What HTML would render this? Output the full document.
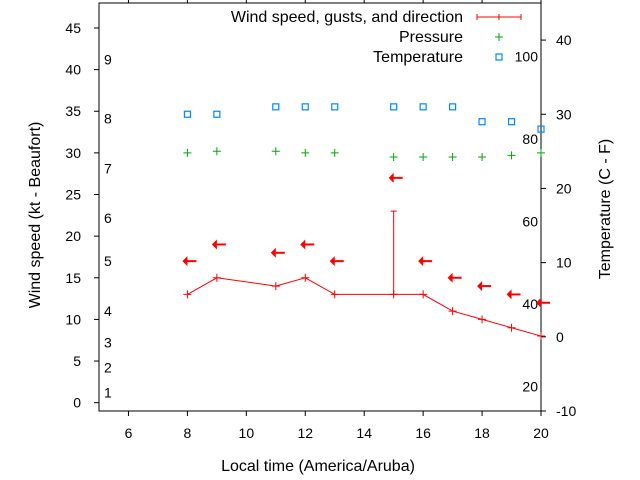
<!DOCTYPE html>
<html><head><meta charset="utf-8"><style>
html,body{margin:0;padding:0;background:#fff}
svg{display:block;font-family:"Liberation Sans",Arial,sans-serif;font-size:14px}
</style></head><body>
<svg id="c" width="640" height="480" viewBox="0 0 640 480"></svg>
<script>
const hours=[8,9,11,12,13,15,16,17,18,19,20];
const windSpeed=[13,15,14,15,13,13,13,11,10,9,8];
const gustHours=[15];
const gustSpeed=[23];
const arrowLevel=[17,19,18,19,17,27,17,15,14,13,12];
const pressure=[30.0,30.2,30.2,30.0,30.0,29.5,29.5,29.5,29.5,29.7,30.0];
const temperature=[30,30,31,31,31,31,31,31,29,29,28];
const xTicks=[6,8,10,12,14,16,18,20];
const yTicks=[0,5,10,15,20,25,30,35,40,45];
const y2Ticks=[-10,0,10,20,30,40];
const beaufortLabels=[1,2,3,4,5,6,7,8,9];
const beaufortKt=[1.2,4.2,7.2,11,17,22.2,28.1,34.1,41.2];
const fLabels=[20,40,60,80,100];

const L=99,R=541,T=3,B=411;
const X=v=>L+(v-5)/(20-5)*(R-L);
const Y=v=>B-(v+1)/(48+1)*(B-T);
const Y2=v=>B-(v+10)/(45+10)*(B-T);
const svg=document.getElementById('c');
const NS='http://www.w3.org/2000/svg';
function mk(tag,at,parent){const e=document.createElementNS(NS,tag);for(const k in at)e.setAttribute(k,at[k]);(parent||svg).appendChild(e);return e;}
function txt(x,y,s,anchor,extra){const t=mk('text',Object.assign({x:x,y:y,'text-anchor':anchor||'middle',fill:'#000'},extra||{}));t.textContent=s;return t;}

const fr=mk('rect',{x:L,y:T,width:R-L,height:B-T,fill:'none',stroke:'#000','stroke-width':1});



xTicks.forEach(v=>{
  mk('line',{x1:X(v),x2:X(v),y1:B,y2:B+5,stroke:'#000'});
  mk('line',{x1:X(v),x2:X(v),y1:T,y2:T-5,stroke:'#000'});
  const t=txt(X(v),438,String(v));
  
  
});
yTicks.forEach(v=>{
  mk('line',{x1:L-5,x2:L,y1:Y(v),y2:Y(v),stroke:'#000'});
  const t=txt(81,Y(v)+5,String(v),'end');
  
  
});
y2Ticks.forEach(v=>{
  mk('line',{x1:R,x2:R+5,y1:Y2(v),y2:Y2(v),stroke:'#000'});
  const t=txt(556,Y2(v)+5,String(v),'start');
  
  
});
beaufortLabels.forEach((b,i)=>{
  const t=txt(104,Y(beaufortKt[i])+5,String(b),'start');
  
  
});
fLabels.forEach(f=>{
  const c=(f-32)*5/9;
  const t=txt(538,Y2(c)+5,String(f),'end');
  
  
});

let t=txt(318,471,'Local time (America/Aruba)','middle',{'font-size':'16px'});


t=txt(0,0,'Wind speed (kt - Beaufort)','middle',{transform:'translate(40,215) rotate(-90)','font-size':'16px'});


t=txt(0,0,'Temperature (C - F)','middle',{transform:'translate(610,209) rotate(-90)','font-size':'16px'});



const pts=hours.map((h,i)=>X(h)+','+Y(windSpeed[i])).join(' ');
const pl=mk('polyline',{points:pts,fill:'none',stroke:'#f00','stroke-width':1});


hours.forEach((h,i)=>{
  const g=mk('path',{d:`M${X(h)-4},${Y(windSpeed[i])}h8M${X(h)},${Y(windSpeed[i])-4}v8`,stroke:'#f00',fill:'none'});
  
  
});
gustHours.forEach((h,i)=>{
  const idx=hours.indexOf(h);
  const g=mk('path',{d:`M${X(h)},${Y(windSpeed[idx])}V${Y(gustSpeed[i])}M${X(h)-3},${Y(gustSpeed[i])}h6`,stroke:'#f00',fill:'none'});
  
  
});
hours.forEach((h,i)=>{
  const x=X(h)-5,y=Y(arrowLevel[i]);
  const g=mk('g',{});
  
  
  mk('line',{x1:x+2,x2:x+14,y1:y,y2:y,stroke:'#f00','stroke-width':2});
  mk('polygon',{points:`${x},${y} ${x+5},${y-5} ${x+5},${y+5}`,fill:'#f00'},g);
});
hours.forEach((h,i)=>{
  const g=mk('path',{d:`M${X(h)-4},${Y(pressure[i])}h8M${X(h)},${Y(pressure[i])-4}v8`,stroke:'#0a0',fill:'none'});
  
  
});
hours.forEach((h,i)=>{
  const g=mk('rect',{x:X(h)-3,y:Y2(temperature[i])-3,width:6,height:6,fill:'none',stroke:'#08f','stroke-width':1.2});
  
  
});

const lg=mk('g',{});


let e=txt(463,22,'Wind speed, gusts, and direction','end',{'font-size':'16px'});lg.appendChild(e);
mk('path',{d:'M477,17h44M477,14v6M521,14v6M499,14v6',stroke:'#f00',fill:'none'},lg);
e=txt(463,42,'Pressure','end',{'font-size':'16px'});lg.appendChild(e);
mk('path',{d:'M495,37h8M499,33v8',stroke:'#0a0',fill:'none'},lg);
e=txt(463,62,'Temperature','end',{'font-size':'16px'});lg.appendChild(e);
mk('rect',{x:496,y:54,width:6,height:6,fill:'none',stroke:'#08f','stroke-width':1.2},lg);
</script>
</body></html>
